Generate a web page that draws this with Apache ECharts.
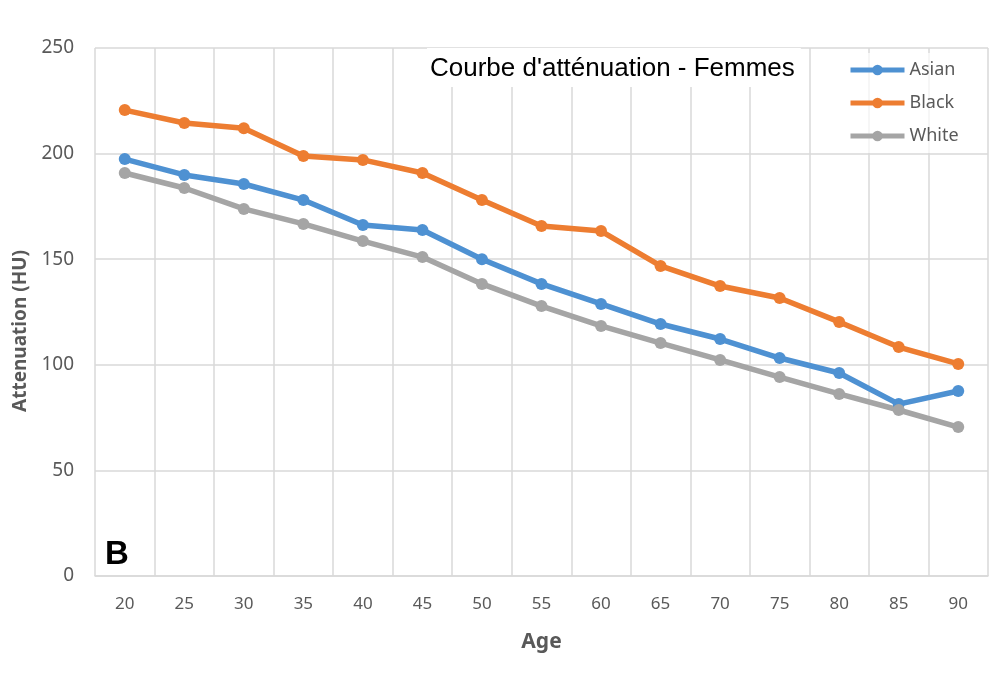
<!DOCTYPE html>
<html><head><meta charset="utf-8">
<script src="https://cdn.jsdelivr.net/npm/echarts@6/dist/echarts.min.js"></script>
<style>html,body{margin:0;padding:0;background:#fff}#c{width:1004px;height:675px}</style>
</head><body><div id="c"></div>
<script>
const ages = ['20','25','30','35','40','45','50','55','60','65','70','75','80','85','90'];
const asian = [197.4,189.9,185.6,178,166.2,163.8,150,138.3,128.8,119.3,112.2,103.2,96.1,81.4,87.6];
const black = [220.6,214.5,212,198.9,197,190.8,178,165.7,163.3,146.8,137.3,131.6,120.3,108.4,100.4];
const white = [190.8,183.7,173.8,166.7,158.6,151,138.3,127.8,118.4,110.3,102.3,94.2,86.2,78.6,70.5];
const yTicks = [0,50,100,150,200,250];

const chart = echarts.init(document.getElementById('c'));
const mk = (name, data, color) => ({
  name, type:'line', data, symbol:'circle', symbolSize:12,
  lineStyle:{width:5.5,color}, itemStyle:{color}, z:3
});
chart.setOption({
  animation:false,
  backgroundColor:'#fff',
  title:{
    text:"Courbe d'atténuation - Femmes",
    left:427, top:48,
    backgroundColor:'#fff',
    padding:[8,6,5,3],
    textStyle:{fontFamily:'Liberation Sans, Arial',fontSize:26,fontWeight:'normal',color:'#000'}
  },
  legend:{
    orient:'vertical', left:838, top:53,
    backgroundColor:'rgba(255,255,255,0.7)', padding:[8,8,8,10],
    itemWidth:54, itemHeight:13, itemGap:15,
    lineStyle:{width:5},
    textStyle:{fontFamily:'Noto Sans',fontSize:18,color:'#595959',padding:[0,0,0,0]},
    data:['Asian','Black','White']
  },
  grid:{left:95,right:16,top:48,bottom:99},
  xAxis:{
    type:'category', data:ages, boundaryGap:true,
    name:'Age', nameLocation:'middle', nameGap:56,
    nameTextStyle:{fontFamily:'Noto Sans',fontSize:21,fontWeight:'bold',color:'#595959'},
    axisLine:{lineStyle:{color:'#d9d9d9',width:1.5}},
    axisTick:{show:false},
    axisLabel:{fontFamily:'Noto Sans',fontSize:17,color:'#595959',margin:20},
    splitLine:{show:true,lineStyle:{color:'#d9d9d9',width:1.5}}
  },
  yAxis:{
    type:'value', min:0, max:250, interval:50,
    name:'Attenuation (HU)', nameLocation:'middle', nameGap:64,
    nameTextStyle:{fontFamily:'Noto Sans',fontSize:19,fontWeight:'bold',color:'#595959',padding:[0,38,0,0]},
    axisLine:{show:false}, axisTick:{show:false},
    axisLabel:{fontFamily:'Noto Sans',fontSize:19,color:'#595959',margin:21,
      formatter:v=>yTicks.includes(v)?String(v):''},
    splitLine:{lineStyle:{color:'#d9d9d9',width:1.5}}
  },
  graphic:[{type:'text',left:105,top:538,style:{text:'B',fontFamily:'Liberation Sans, Arial',fontSize:33,fontWeight:'bold',fill:'#000'}}],
  series:[mk('Asian',asian,'#4e91d2'),mk('Black',black,'#ed7d31'),mk('White',white,'#a5a5a5')]
});
</script></body></html>
